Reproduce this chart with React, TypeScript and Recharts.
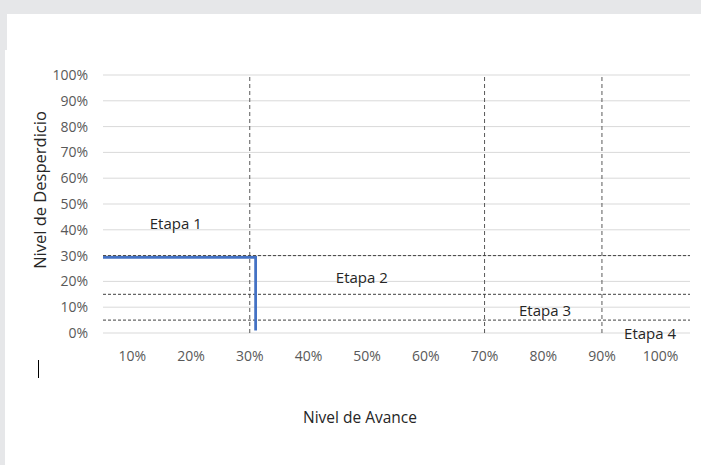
import React from "react";
import {
  LineChart,
  Line,
  XAxis,
  YAxis,
  CartesianGrid,
  ReferenceLine,
  ReferenceDot,
} from "recharts";

// blue path: waste level held until ~31% progress, then dropped
const pathX = [0.05, 0.31, 0.31];
const pathY = [0.293, 0.293, 0.01];

const xTicks = [0.1, 0.2, 0.3, 0.4, 0.5, 0.6, 0.7, 0.8, 0.9, 1.0];
const yTicks = [0, 0.1, 0.2, 0.3, 0.4, 0.5, 0.6, 0.7, 0.8, 0.9, 1.0];

// stage boundaries
const wasteLimits = [0.3, 0.15, 0.05];
const progressLimits = [0.3, 0.7, 0.9];

const stageNames = ["Etapa 1", "Etapa 2", "Etapa 3", "Etapa 4"];
const stageX = [0.174, 0.491, 0.803, 0.982];
const stageY = [0.422, 0.213, 0.085, -0.004];

const data = pathX.map((x, i) => ({ x, y: pathY[i] }));

const FONT = "'Open Sans', sans-serif";
const pct = (v: number) => `${Math.round(v * 100)}%`;

export default function App() {
  return (
    <div
      style={{
        position: "fixed",
        left: 0,
        top: 0,
        width: 701,
        height: 465,
        background: "#e6e7e9",
        fontFamily: FONT,
        overflow: "hidden",
      }}
    >
      <div style={{ position: "absolute", left: 7, top: 14, width: 694, height: 451, background: "#fff" }} />
      <div style={{ position: "absolute", left: 5, top: 50, width: 2, height: 415, background: "#fff" }} />

      <div style={{ position: "absolute", left: 0, top: 0 }}>
        <LineChart
          width={701}
          height={465}
          data={data}
          margin={{ top: 75, right: 11, bottom: 102, left: 43 }}
        >
          <CartesianGrid vertical={false} stroke="#d9d9d9" />
          <XAxis
            dataKey="x"
            type="number"
            domain={[0.05, 1.05]}
            ticks={xTicks}
            tickFormatter={pct}
            axisLine={false}
            tickLine={false}
            tickMargin={12}
            height={30}
            tick={{ fill: "#595959", fontSize: 14, fontFamily: FONT }}
          />
          <YAxis
            type="number"
            domain={[0, 1]}
            ticks={yTicks}
            tickFormatter={pct}
            axisLine={false}
            tickLine={false}
            tickMargin={9}
            width={60}
            tick={{ fill: "#595959", fontSize: 14, fontFamily: FONT }}
          />
          {progressLimits.map((v) => (
            <ReferenceLine key={"v" + v} x={v} stroke="#595959" strokeDasharray="4 3" />
          ))}
          {wasteLimits.map((v) => (
            <ReferenceLine key={"h" + v} y={v} stroke="#404040" strokeDasharray="3 2" />
          ))}
          <Line
            dataKey="y"
            type="linear"
            stroke="#4472c4"
            strokeWidth={2.75}
            dot={false}
            isAnimationActive={false}
          />
          {stageNames.map((name, i) => (
            <ReferenceDot
              key={name}
              x={stageX[i]}
              y={stageY[i]}
              r={0}
              fill="none"
              stroke="none"
              ifOverflow="visible"
              label={{ value: name, position: "center", fill: "#262626", fontSize: 15, fontFamily: FONT }}
            />
          ))}
        </LineChart>
      </div>

      <div
        style={{
          position: "absolute",
          left: 39,
          top: 190,
          transform: "translate(-50%, -50%) rotate(-90deg)",
          whiteSpace: "nowrap",
          fontSize: 16.5,
          color: "#262626",
        }}
      >
        Nivel de Desperdicio
      </div>
      <div
        style={{
          position: "absolute",
          left: 360,
          top: 417,
          transform: "translate(-50%, -50%)",
          whiteSpace: "nowrap",
          fontSize: 15.5,
          color: "#262626",
        }}
      >
        Nivel de Avance
      </div>
      <div style={{ position: "absolute", left: 38, top: 360, width: 1, height: 18, background: "#000" }} />
    </div>
  );
}
